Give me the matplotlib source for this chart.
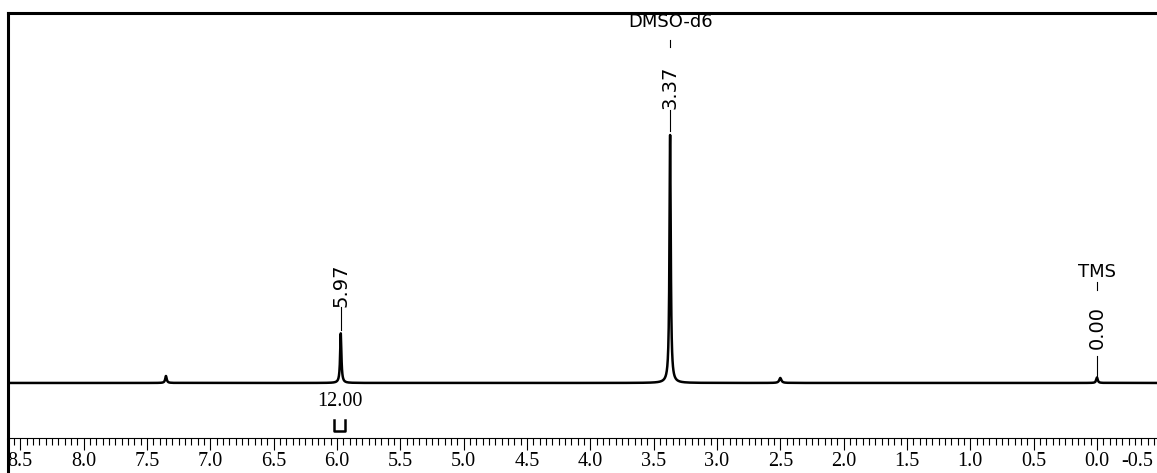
import numpy as np
import matplotlib
matplotlib.use("Agg")
from matplotlib import pyplot as plt
from matplotlib.ticker import MultipleLocator, FormatStrFormatter
from matplotlib.lines import Line2D
from matplotlib.transforms import ScaledTranslation

plt.rcParams['axes.unicode_minus'] = False

# peaks (ppm, relative height, half width in ppm)
peak_ppm = [7.35, 5.97, 3.37, 2.50, 0.00]
peak_height = [0.028, 0.20, 1.00, 0.020, 0.022]
peak_width = [0.007, 0.006, 0.006, 0.010, 0.007]

# labelled peaks
label_ppm = [5.97, 3.37, 0.00]
label_text = ["5.97", "3.37", "0.00"]
solvent_text = {3.37: "DMSO-d6", 0.00: "TMS"}

# integral region
integral_range = [6.02, 5.94]
integral_value = "12.00"

W, H = 1157, 473
fig = plt.figure(figsize=(W / 100, H / 100), dpi=100)

x0 = 8
x_right = 1160.35
ax = fig.add_axes([x0 / W, 35 / H, (x_right - x0) / W, 425 / H])

ppm = np.linspace(-0.5, 8.6, 60000)
spec = np.zeros_like(ppm)
for c, h, g in zip(peak_ppm, peak_height, peak_width):
    spec += h / (1 + ((ppm - c) / g) ** 2)

ax.plot(ppm, spec, color='black', lw=1.8, solid_joinstyle='round')

ax.set_xlim(8.597, -0.5)
ax.set_ylim(-0.222, 1.492)

# peak labels
tops = {5.97: (0.395, 0.306, 0.214), 3.37: (1.194, 1.101, 1.016), 0.00: (0.222, 0.109, 0.024)}
for p, t in zip(label_ppm, label_text):
    ty, l1, l2 = tops[p]
    ax.text(p, ty, t, rotation=90, ha='center', va='center', fontsize=14)
    ax.plot([p, p], [l1, l2], color='black', lw=0.8)

ax.text(3.37, 1.456, solvent_text[3.37], ha='center', va='center', fontsize=13)
ax.plot([3.37, 3.37], [1.355, 1.383], color='black', lw=0.8)
ax.text(0.00, 0.448, solvent_text[0.00], ha='center', va='center', fontsize=13)
ax.plot([0.00, 0.00], [0.375, 0.407], color='black', lw=0.8)

# integral bracket
a, b = integral_range
ax.plot([a, a, b, b], [-0.149, -0.194, -0.194, -0.149], color='black', lw=1.8)
ax.text((a + b) / 2, -0.073, integral_value, ha='center', va='center',
        fontsize=14.5, family='Liberation Serif')

# frame
ax.spines['right'].set_visible(False)
ax.spines['top'].set_linewidth(2.2)
ax.spines['left'].set_linewidth(2.2)
ax.spines['bottom'].set_linewidth(0.8)
ax.set_yticks([])
ax.xaxis.set_major_locator(MultipleLocator(0.5))
ax.xaxis.set_minor_locator(MultipleLocator(0.05))
ax.xaxis.set_major_formatter(FormatStrFormatter('%.1f'))
ax.tick_params(axis='x', which='major', direction='out', length=8.5, width=0.8, pad=1.5)
ax.tick_params(axis='x', which='minor', direction='out', length=5, width=0.8)
for lab in ax.get_xticklabels():
    lab.set_family('Liberation Serif')
    lab.set_fontsize(14.5)

fig.canvas.draw()
for tk in ax.xaxis.get_major_ticks():
    if abs(tk.get_loc() + 0.5) < 1e-6:
        tk.label1.set_horizontalalignment('right')
        tk.label1.set_transform(tk.label1.get_transform() +
                                ScaledTranslation(-5 / 72, 0, fig.dpi_scale_trans))

# left border runs down past the scale
fig.add_artist(Line2D([x0 / W, x0 / W], [0, 35 / H], color='black', lw=2.2,
                      transform=fig.transFigure, solid_capstyle='butt'))

fig.savefig("out.png", dpi=100)
